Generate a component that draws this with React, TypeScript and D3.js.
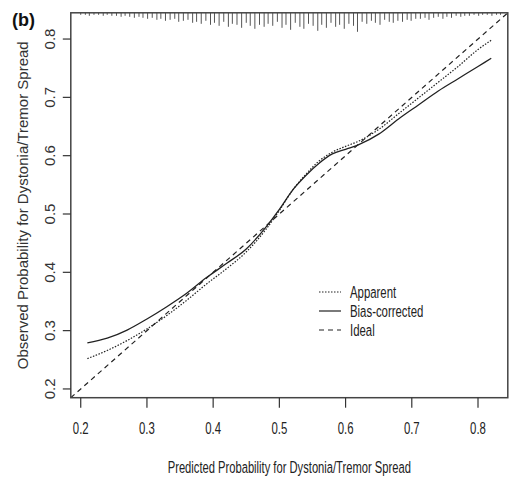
import React from 'react';
import * as d3 from 'd3';

// calibration curve
const predicted = [0.21, 0.24, 0.27, 0.3, 0.33, 0.36, 0.39, 0.42, 0.45, 0.48, 0.5, 0.52, 0.54, 0.56, 0.58, 0.6, 0.62, 0.65, 0.68, 0.71, 0.74, 0.77, 0.8, 0.82];
const apparent = [0.252, 0.266, 0.283, 0.303, 0.326, 0.352, 0.38, 0.406, 0.435, 0.474, 0.506, 0.541, 0.568, 0.591, 0.606, 0.616, 0.625, 0.645, 0.672, 0.699, 0.726, 0.753, 0.782, 0.798];
const biasCorrected = [0.279, 0.287, 0.301, 0.32, 0.341, 0.364, 0.391, 0.415, 0.44, 0.478, 0.508, 0.541, 0.566, 0.587, 0.603, 0.611, 0.619, 0.637, 0.663, 0.687, 0.711, 0.732, 0.753, 0.767];

const xTicks = [0.2, 0.3, 0.4, 0.5, 0.6, 0.7, 0.8];
const yTicks = [0.2, 0.3, 0.4, 0.5, 0.6, 0.7, 0.8];

// distribution of predicted risks (spikes on top)
const rugX = [
    0.200, 0.207, 0.213, 0.220, 0.227, 0.234, 0.240, 0.247, 0.254, 0.261, 0.267,
    0.274, 0.281, 0.288, 0.294, 0.301, 0.308, 0.315, 0.321, 0.328, 0.335, 0.342, 0.348, 0.355, 0.362, 0.369, 0.375,
    0.382, 0.389, 0.396, 0.402, 0.409, 0.416, 0.423, 0.429, 0.436, 0.443, 0.450, 0.456, 0.463, 0.470, 0.477, 0.483,
    0.490, 0.497, 0.504, 0.510, 0.517, 0.524, 0.531, 0.537, 0.544, 0.551, 0.558, 0.564, 0.571, 0.578, 0.585, 0.591, 0.598, 0.605, 0.612, 0.618,
    0.625, 0.632, 0.639, 0.645, 0.652, 0.659, 0.666, 0.672, 0.679, 0.686, 0.693, 0.699, 0.706,
    0.713, 0.720, 0.726, 0.733, 0.740, 0.747, 0.753, 0.760, 0.767, 0.774, 0.780,
    0.787, 0.794, 0.801, 0.807, 0.814, 0.821, 0.828, 0.834,
];
const rugCount = [
    2, 2, 3, 2, 2, 3, 2, 3, 3, 4, 3,
    4, 5, 4, 5, 6, 5, 7, 6, 8, 7, 6, 9, 8, 7, 10, 9,
    11, 8, 12, 10, 13, 9, 14, 11, 12, 15, 10, 13, 16, 12, 14, 11,
    13, 9, 15, 12, 17, 10, 14, 16, 11, 13, 18, 12, 15, 10, 14, 12, 16, 11, 13, 19,
    9, 11, 8, 10, 12, 7, 9, 10, 8, 9, 7, 8, 6,
    6, 5, 7, 5, 4, 6, 4, 5, 3, 4, 3,
    3, 2, 3, 2, 2, 3, 2, 2,
];

const legendItems = ['Apparent', 'Bias-corrected', 'Ideal'];
const legendDash = ['1.5,1.5', null, '5,4'];

const W = 514;
const H = 481;
const font = '"Liberation Sans", Arial, sans-serif';
const squeeze = 0.67; // horizontal text looks condensed in the figure

function HText({ x, y, anchor = 'middle', size = 15, weight = 'normal', children }) {
    return (
        <text
            transform={`translate(${x},${y}) scale(${squeeze},1)`}
            textAnchor={anchor}
            fontSize={size}
            fontWeight={weight}
            fontFamily={font}
            fill="#222"
        >
            {children}
        </text>
    );
}

export default function App() {
    const x = d3.scaleLinear().domain([0.185, 0.845]).range([70.8, 507.8]);
    const y = d3.scaleLinear().domain([0.185, 0.845]).range([397.7, 12.8]);
    const rugLen = d3.scaleLinear().domain([0, d3.max(rugCount)]).range([0, 19]);

    const line = d3
        .line()
        .x(d => x(d[0]))
        .y(d => y(d[1]))
        .curve(d3.curveMonotoneX);

    const apparentPath = line(predicted.map((p, i) => [p, apparent[i]]));
    const biasPath = line(predicted.map((p, i) => [p, biasCorrected[i]]));
    const [d0, d1] = x.domain();

    const [x0, x1] = x.range();
    const [yb, yt] = y.range();

    return (
        <svg width={W} height={H} style={{ position: 'absolute', left: 0, top: 0, background: '#fff' }}>
            <defs>
                <clipPath id="plot">
                    <rect x={x0} y={yt} width={x1 - x0} height={yb - yt} />
                </clipPath>
            </defs>

            {/* rug of predicted values */}
            <g stroke="#555" strokeWidth={1}>
                {rugX.map((v, i) => (
                    <line key={i} x1={x(v)} x2={x(v)} y1={yt} y2={yt + rugLen(rugCount[i])} />
                ))}
            </g>

            <g clipPath="url(#plot)" fill="none" stroke="#222">
                <line x1={x(d0)} y1={y(d0)} x2={x(d1)} y2={y(d1)} strokeWidth={1.2} strokeDasharray="5,4" />
                <path d={apparentPath} strokeWidth={1.2} strokeDasharray="1.5,1.5" />
                <path d={biasPath} strokeWidth={1.3} />
            </g>

            <rect x={x0} y={yt} width={x1 - x0} height={yb - yt} fill="none" stroke="#444" strokeWidth={1.5} />

            {/* x axis */}
            <g stroke="#333" strokeWidth={1.2}>
                {xTicks.map(t => (
                    <line key={t} x1={x(t)} x2={x(t)} y1={yb} y2={yb + 10} />
                ))}
            </g>
            {xTicks.map(t => (
                <HText key={t} x={x(t)} y={434} size={17}>
                    {t.toFixed(1)}
                </HText>
            ))}
            <HText x={(x0 + x1) / 2} y={473} size={16.7}>
                Predicted Probability for Dystonia/Tremor Spread
            </HText>

            {/* y axis */}
            <g stroke="#333" strokeWidth={1.2}>
                {yTicks.map(t => (
                    <line key={t} x1={x0 - 8} x2={x0} y1={y(t)} y2={y(t)} />
                ))}
            </g>
            {yTicks.map(t => (
                <text
                    key={t}
                    transform={`translate(54.5,${y(t)}) rotate(-90)`}
                    textAnchor="middle"
                    fontSize={15}
                    fontFamily={font}
                    fill="#333"
                >
                    {t.toFixed(1)}
                </text>
            ))}
            <text
                transform={`translate(28,${(yt + yb) / 2}) rotate(-90)`}
                textAnchor="middle"
                fontSize={15}
                fontFamily={font}
                fill="#333"
            >
                Observed Probability for Dystonia/Tremor Spread
            </text>

            {/* legend */}
            {legendItems.map((name, i) => {
                const ly = 292 + i * 19;
                return (
                    <g key={name}>
                        <line
                            x1={319}
                            x2={341}
                            y1={ly}
                            y2={ly}
                            stroke="#222"
                            strokeWidth={1.2}
                            strokeDasharray={legendDash[i] || undefined}
                        />
                        <HText x={350} y={ly + 6} anchor="start" size={17}>
                            {name}
                        </HText>
                    </g>
                );
            })}

            <text x={12} y={26} fontSize={18} fontWeight="bold" fontFamily={font} fill="#111">
                (b)
            </text>
        </svg>
    );
}
